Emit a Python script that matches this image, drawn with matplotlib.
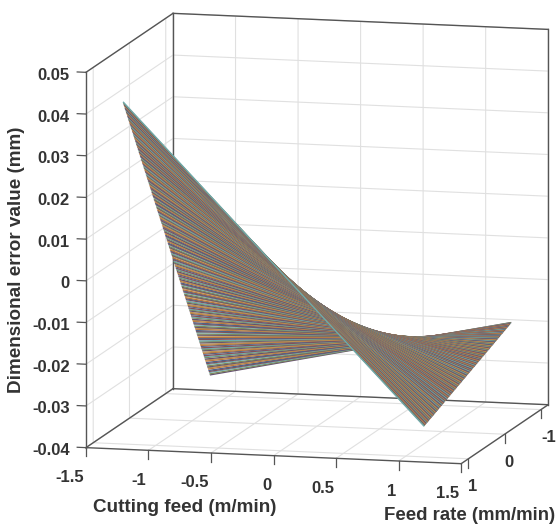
import numpy as np
import matplotlib
matplotlib.use('Agg')
import matplotlib.pyplot as plt
from mpl_toolkits.mplot3d import proj3d

plt.rcParams['font.family'] = ['Liberation Sans', 'DejaVu Sans']

# height of each constant-feed-rate line at cutting feed -1.2 (feed rate -1.2 -> 1.2)
z_left = [
    -.0363, -.0360, -.0356, -.0353, -.0350, -.0346, -.0343, -.0340,
    -.0337, -.0333, -.0330, -.0327, -.0323, -.0320, -.0317, -.0313,
    -.0310, -.0307, -.0303, -.0300, -.0297, -.0293, -.0290, -.0287,
    -.0284, -.0280, -.0277, -.0274, -.0270, -.0267, -.0264, -.0260,
    -.0257, -.0254, -.0250, -.0247, -.0244, -.0240, -.0237, -.0234,
    -.0230, -.0227, -.0224, -.0221, -.0217, -.0214, -.0211, -.0207,
    -.0204, -.0201, -.0197, -.0194, -.0191, -.0187, -.0184, -.0181,
    -.0177, -.0174, -.0171, -.0168, -.0164, -.0161, -.0158, -.0154,
    -.0151, -.0148, -.0144, -.0141, -.0138, -.0134, -.0131, -.0128,
    -.0124, -.0121, -.0118, -.0115, -.0111, -.0108, -.0105, -.0101,
    -.0098, -.0095, -.0091, -.0088, -.0085, -.0081, -.0078, -.0075,
    -.0071, -.0068, -.0065, -.0062, -.0058, -.0055, -.0052, -.0048,
    -.0045, -.0042, -.0038, -.0035, -.0032, -.0028, -.0025, -.0022,
    -.0018, -.0015, -.0012, -.0009, -.0005, -.0002, .0001, .0005,
    .0008, .0011, .0015, .0018, .0021, .0025, .0028, .0031,
    .0035, .0038, .0041, .0044, .0048, .0051, .0054, .0058,
    .0061, .0064, .0068, .0071, .0074, .0078, .0081, .0084,
    .0087, .0091, .0094, .0097, .0101, .0104, .0107, .0111,
    .0114, .0117, .0121, .0124, .0127, .0131, .0134, .0137,
    .0141, .0144, .0147, .0150, .0154, .0157, .0160, .0164,
    .0167, .0170, .0174, .0177, .0180, .0184, .0187, .0190,
    .0194, .0197, .0200, .0203, .0207, .0210, .0213, .0217,
    .0220, .0223, .0227, .0230, .0233, .0237, .0240, .0243,
    .0246, .0250, .0253, .0256, .0260, .0263, .0266, .0270,
    .0273, .0276, .0280, .0283, .0286, .0290, .0293, .0296,
    .0300, .0303, .0306, .0309, .0313, .0316, .0319, .0323,
    .0326, .0329, .0333, .0336, .0339, .0343, .0346, .0349,
    .0353, .0356, .0359, .0362, .0366, .0369, .0372, .0376,
    .0379, .0382, .0386, .0389, .0392, .0396, .0399, .0402,
    .0406, .0409, .0412, .0415, .0419, .0422, .0425, .0429,
    .0432]
# same lines at cutting feed 1.2
z_right = [
    -.0207, -.0207, -.0208, -.0208, -.0209, -.0209, -.0210, -.0210,
    -.0211, -.0211, -.0211, -.0212, -.0212, -.0213, -.0213, -.0214,
    -.0214, -.0215, -.0215, -.0215, -.0216, -.0216, -.0217, -.0217,
    -.0218, -.0218, -.0218, -.0219, -.0219, -.0220, -.0220, -.0221,
    -.0221, -.0222, -.0222, -.0222, -.0223, -.0223, -.0224, -.0224,
    -.0225, -.0225, -.0226, -.0226, -.0226, -.0227, -.0227, -.0228,
    -.0228, -.0229, -.0229, -.0230, -.0230, -.0230, -.0231, -.0231,
    -.0232, -.0232, -.0233, -.0233, -.0234, -.0234, -.0234, -.0235,
    -.0235, -.0236, -.0236, -.0237, -.0237, -.0237, -.0238, -.0238,
    -.0239, -.0239, -.0240, -.0240, -.0241, -.0241, -.0241, -.0242,
    -.0242, -.0243, -.0243, -.0244, -.0244, -.0245, -.0245, -.0245,
    -.0246, -.0246, -.0247, -.0247, -.0248, -.0248, -.0249, -.0249,
    -.0249, -.0250, -.0250, -.0251, -.0251, -.0252, -.0252, -.0252,
    -.0253, -.0253, -.0254, -.0254, -.0255, -.0255, -.0256, -.0256,
    -.0256, -.0257, -.0257, -.0258, -.0258, -.0259, -.0259, -.0260,
    -.0260, -.0260, -.0261, -.0261, -.0262, -.0262, -.0263, -.0263,
    -.0264, -.0264, -.0264, -.0265, -.0265, -.0266, -.0266, -.0267,
    -.0267, -.0268, -.0268, -.0268, -.0269, -.0269, -.0270, -.0270,
    -.0271, -.0271, -.0271, -.0272, -.0272, -.0273, -.0273, -.0274,
    -.0274, -.0275, -.0275, -.0275, -.0276, -.0276, -.0277, -.0277,
    -.0278, -.0278, -.0279, -.0279, -.0279, -.0280, -.0280, -.0281,
    -.0281, -.0282, -.0282, -.0283, -.0283, -.0283, -.0284, -.0284,
    -.0285, -.0285, -.0286, -.0286, -.0287, -.0287, -.0287, -.0288,
    -.0288, -.0289, -.0289, -.0290, -.0290, -.0290, -.0291, -.0291,
    -.0292, -.0292, -.0293, -.0293, -.0294, -.0294, -.0294, -.0295,
    -.0295, -.0296, -.0296, -.0297, -.0297, -.0298, -.0298, -.0298,
    -.0299, -.0299, -.0300, -.0300, -.0301, -.0301, -.0302, -.0302,
    -.0302, -.0303, -.0303, -.0304, -.0304, -.0305, -.0305, -.0305,
    -.0306, -.0306, -.0307, -.0307, -.0308, -.0308, -.0309, -.0309,
    -.0309, -.0310, -.0310, -.0311, -.0311, -.0312, -.0312, -.0313,
    -.0313]
x_ends = [-1.2, 1.2]

x_ticks = [-1.5, -1, -0.5, 0, 0.5, 1, 1.5]
x_labels = ['-1.5', '-1', '-0.5', '0', '0.5', '1', '1.5']
y_ticks = [1, 0, -1]
y_labels = ['1', '0', '-1']
z_ticks = [-0.04, -0.03, -0.02, -0.01, 0, 0.01, 0.02, 0.03, 0.04, 0.05]
z_labels = ['-0.04', '-0.03', '-0.02', '-0.01', '0', '0.01', '0.02', '0.03', '0.04', '0.05']

# line colours, muted the way they look in the picture
line_colors = ['#4f6288', '#b8743f', '#bd9452', '#655070', '#7d8a5c', '#6fa9ac', '#84505a']

xlo, xhi = -1.5, 1.5
ylo, yhi = 1.2, -1.2
zlo, zhi = -0.04, 0.05
box_col = '#555555'
txt_col = '#333333'

fig = plt.figure(figsize=(5.56, 5.24), dpi=100)
ax = fig.add_axes([48 / 556, 16.4 / 524, 524 / 556, 1.0], projection='3d', proj_type='ortho')
ax.computed_zorder = False
ax.view_init(elev=9.8, azim=-75.9)
ax.set_box_aspect((386.6, 357, 380.6), zoom=1.204)
ax.set_xlim(xlo, xhi, view_margin=0)
ax.set_ylim(ylo, yhi, view_margin=0)
ax.set_zlim(zlo, zhi, view_margin=0)

ax.set_xticks(x_ticks)
ax.set_yticks(y_ticks)
ax.set_zticks(z_ticks)
ax.set_xticklabels([])
ax.set_yticklabels([])
ax.set_zticklabels([])
for axis in (ax.xaxis, ax.yaxis, ax.zaxis):
    axis.set_pane_color((1, 1, 1, 1))
    axis.pane.set_edgecolor('none')
    axis.line.set_color('none')
    axis._axinfo['grid']['color'] = '#e0e0e0'
    axis._axinfo['grid']['linewidth'] = 0.8
    axis._axinfo['tick']['inward_factor'] = 0
    axis._axinfo['tick']['outward_factor'] = 0

# box edges
edges = [([xlo, xhi], [ylo, ylo], [zlo, zlo]), ([xhi, xhi], [ylo, yhi], [zlo, zlo]),
         ([xlo, xlo], [ylo, yhi], [zlo, zlo]), ([xlo, xhi], [yhi, yhi], [zlo, zlo]),
         ([xlo, xlo], [ylo, ylo], [zlo, zhi]), ([xlo, xlo], [yhi, yhi], [zlo, zhi]),
         ([xhi, xhi], [yhi, yhi], [zlo, zhi]), ([xlo, xlo], [ylo, yhi], [zhi, zhi]),
         ([xlo, xhi], [yhi, yhi], [zhi, zhi])]
for ex, ey, ez in edges:
    ax.plot(ex, ey, ez, color=box_col, lw=1.0, zorder=2)


def tick_label(x, y, z, s, ha, dx, dy):
    # text placed a few pixels away from the projected tick position
    x2, y2, _ = proj3d.proj_transform(x, y, z, ax.get_proj())
    ax.annotate(s, xy=(x2, y2), xycoords='data', xytext=(dx, dy), textcoords='offset pixels',
                ha=ha, va='center', fontsize=12, fontweight='bold', color=txt_col)


# tick marks and their labels
for t, s in zip(x_ticks, x_labels):
    ax.plot([t, t], [ylo, ylo], [zlo, zlo - 0.0021], color=box_col, lw=0.9, zorder=2)
    tick_label(t, ylo, zlo, s, 'right', -2, -30)
for t, s in zip(y_ticks, y_labels):
    ax.plot([xhi, xhi], [t, t], [zlo, zlo - 0.0021], color=box_col, lw=0.9, zorder=2)
    tick_label(xhi, t, zlo, s, 'left', 0, -28)
for t, s in zip(z_ticks, z_labels):
    ax.plot([xlo, xlo - 0.07], [ylo, ylo], [t, t], color=box_col, lw=0.9, zorder=2)
    tick_label(xlo, ylo, t, s, 'right', -16, -3)

# one line per feed rate, far side first
y_lines = np.linspace(-1.2, 1.2, len(z_left))
n = len(z_left)
for i in range(n):
    col = line_colors[(i + 5 - (n - 1)) % 7]
    ax.plot(x_ends, [y_lines[i], y_lines[i]], [z_left[i], z_right[i]], color=col, lw=0.95, zorder=3 + i * 0.001)

fig.text(185 / 556, 1 - 507 / 524, 'Cutting feed (m/min)', ha='center', va='center', fontsize=13.6, fontweight='bold', color=txt_col)
fig.text(470 / 556, 1 - 515 / 524, 'Feed rate (mm/min)', ha='center', va='center', fontsize=13.4, fontweight='bold', color=txt_col)
fig.text(17 / 556, 1 - 260 / 524, 'Dimensional error value (mm)', ha='center', va='center', rotation=90, fontsize=13.6, fontweight='bold', color=txt_col)

fig.savefig('out.png', dpi=100)
